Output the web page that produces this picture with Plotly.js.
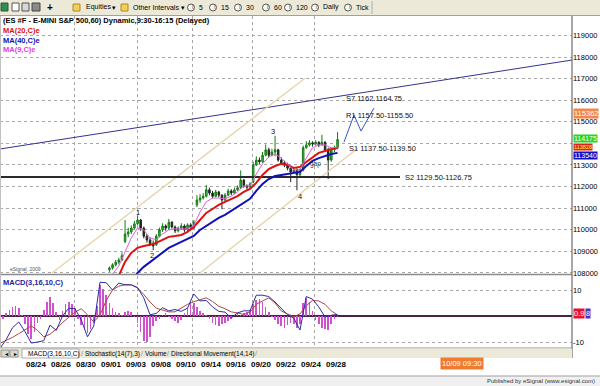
<!DOCTYPE html>
<html><head><meta charset="utf-8">
<script src="https://cdn.plot.ly/plotly-3.0.1.min.js"></script>
<style>html,body{margin:0;padding:0;background:#fff;}#chart{width:600px;height:386px;}</style>
</head><body><div id="chart"></div>
<script>
const F = "Liberation Sans, Arial, sans-serif";
const W = 600, H = 386;
const px = x => x / W;
const py = y => 1 - y / H;

// ---------------- data ----------------
const dateLabels = ['08/24','08/26','08/30','09/01','09/03','09/08','09/10','09/14','09/16','09/20','09/22','09/24','09/28'];
const dateIdx = [0,2,4,6,8,10,12,14,16,18,20,22,24];
const gridIdx = [3.1, 8.08, 12.5, 17.3, 22.3];
const priceTicks = [1080,1090,1100,1110,1120,1130,1140,1150,1160,1170,1180,1190];
// 114000 is hidden behind the value boxes in the reference
const priceTickText = ['108000','109000','110000','111000','112000','113000','','115000','116000','117000','118000','119000'];
const macdTicks = [10,-10];
const macdTickText = ['10','-10'];

const candleStart = 5.875, candleStep = 0.25;
const opens  = [1081.5,1082.25,1083.75,1085,1086,1094.5,1098,1099,1100.75,1102.75,1104.5,1100.75,1097,1095.25,1093.5,1093,1097,1100,1101.75,1100.75,1103.5,1101.25,1099.5,1100.75,1101.75,1100,1102.25,1100.75,1111.5,1113.75,1114.75,1115.5,1118.5,1117,1115.5,1117.5,1116,1113.75,1116,1118,1117,1118.5,1119.5,1123,1120.25,1119.75,1122,1130,1132.25,1131.5,1134.5,1137,1134.5,1136,1137,1132.25,1131,1130,1128.5,1126.75,1127.75,1125.5,1127.75,1138,1139.25,1140.25,1139.75,1140.5,1139.25,1140.5,1137,1132.25,1137,1138];
const highs  = [1083,1084.5,1086,1087,1089.5,1104.5,1101,1102,1104,1106.5,1105,1101.5,1098,1096.5,1095,1098,1101,1103,1102.5,1105,1104,1102,1101.5,1103,1102.5,1103,1103,1104.5,1116,1116.5,1117,1120.75,1119.5,1118,1118.5,1118,1116.5,1117,1119,1118.75,1119.5,1120.5,1127.5,1123.5,1121,1122,1131.5,1134,1133.5,1136,1139.5,1138,1137.5,1143.5,1137.5,1133.5,1132,1131,1129.5,1129,1128.5,1128.5,1139,1141,1141.5,1141,1141.5,1141,1144,1141,1138,1138,1139,1145.25];
const lows   = [1080.5,1081.5,1083,1084,1085.5,1093.75,1096.5,1098,1100,1102,1099.5,1096,1094,1092.5,1090.5,1092.5,1096.5,1099,1099.5,1100,1100.5,1098.5,1098.75,1100,1099,1099.5,1099.75,1100.25,1110.5,1112.5,1114,1115,1116,1114.5,1115,1115,1109.5,1113,1115.5,1116,1116.5,1118,1119,1119.5,1118.5,1119,1121.5,1129.5,1130.5,1131,1134,1133.5,1134,1134,1131.5,1130,1129,1127.5,1122,1126,1118.25,1124.5,1127,1137.5,1138.5,1138.5,1139,1138.25,1139,1136,1123.5,1131.5,1136,1137.5];
const closes = [1082.25,1083.75,1085,1086,1088,1098,1099,1100.75,1102.75,1104.5,1100.75,1097,1095.25,1093.5,1092.5,1097,1100,1101.75,1100.75,1103.5,1101.25,1099.5,1100.75,1101.75,1100,1102.25,1100.75,1103.5,1113.75,1114.75,1115.5,1118.5,1117,1115.5,1117.5,1116,1113.75,1116,1118,1117,1118.5,1119.5,1123,1120.25,1119.75,1121.25,1130,1132.25,1131.5,1134.5,1137,1134.5,1136,1137,1132.25,1131,1130,1128.5,1126.75,1127.75,1125.5,1127.75,1138,1139.25,1140.25,1139.75,1140.5,1139.25,1140.5,1137,1132.25,1137,1138,1141.75];

const maStart = 6.12, maStep = 0.5;
const ma20 = [1074.4,1078.6,1085.1,1089.3,1091.6,1092.5,1093,1093.9,1095.3,1096.7,1097.1,1097.6,1099,1101.3,1104.5,1107.8,1109.6,1111.5,1112.9,1114.3,1115.6,1117.5,1118.9,1121.7,1125.4,1128.1,1129.5,1130.5,1130,1128.6,1129.1,1131.4,1133.7,1135.6,1136.5,1137.4,1137.9];
const ma40 = [1067.5,1070.7,1073.5,1076.3,1080,1082.8,1085.1,1087.4,1089.7,1091.6,1093,1094.4,1095.7,1097.1,1099.9,1101.8,1103.6,1105.5,1106.9,1108.7,1110.6,1112.4,1114.3,1118,1121.2,1123.5,1124.9,1125.4,1125.8,1126.3,1126.8,1129.5,1131.9,1133.2,1134.2,1135.1,1135.6];
const ma9  = [1079.5,1083.2,1089.7,1096.2,1100.8,1099.9,1096.2,1095.3,1098,1099.9,1100.4,1100.4,1100.4,1101.8,1108.2,1112.9,1114.7,1114.7,1114.3,1115.6,1117.5,1120.3,1120.3,1125.8,1130.5,1133.7,1135.1,1133.2,1130.5,1127.7,1127.7,1133.2,1137.9,1139.3,1139.3,1137.9,1138.3];

const macdStart = -2.88, macdStep = 0.5;
const macdLine   = [-12.5,-9,-4.5,-2.3,-6,-10.4,-10,-9.5,-3.5,-5.5,0,3,2.8,-1.5,-8,-3.8,13,12.8,10,12.7,12,12,11,7,0.5,1,3.2,2,2.5,1.8,3,8.5,5.8,6,3.5,1.8,1.5,-0.7,1.2,2,2,8,8,7.5,5.4,2.8,0.5,-0.8,-5.4,7.5,6.5,3.5,-0.4,0.3,0.6];
const signalLine = [-10.5,-9.5,-8.2,-6.8,-5.2,-3.8,-5.5,-8,-7,-5,-2.5,-0.5,1.5,2.8,0.5,-2.3,0.4,6,10,11.5,12,12,10.8,8.3,5.4,3,2.3,1.6,1.6,3,4.5,5.5,6.4,7,5.6,3.8,2.8,1.6,1.2,0.6,1.5,4.5,5.8,7,5,2,0.8,-0.2,0.8,4,6,5.8,4.5,2,0.4];
const histStart = -2.88, histStep = 0.25;
const histogram = [-2,-1,1,2.5,3.5,3.8,3,0.5,-3,-7,-9,-6,-2.5,-1,2.5,5.5,7.3,5,1.5,-1.5,2,4.5,5.5,4.8,3,-1,-3.5,-5.5,-6.5,-5,-2.5,4,12,10.5,8,5,3,1.5,1,0.5,1.5,2,1.5,-0.5,-2.5,-6,-9.5,-10,-8,-4,-2,-1,0.5,1,-0.5,-1,-2,-2.5,-1.5,1,3,5.5,5,3.5,2,1,0.5,-1,-2.5,-3.5,-4,-3,-2.5,-2,-1,0.5,1,0.5,1,1.5,2.5,4.5,6,6.5,5.5,3.5,1.5,-0.5,-1.5,-3,-4,-4.5,-3.5,-2.5,-3,-4.5,-3,5,7,5.5,2,-1.5,-3,-4.5,-5,-5.5,-3,-1,-0.5];

const trendX = [-2.88, 42.88], trendY = [1137.4, 1178.6];
const chanUpX = [1.28, 21.52], chanUpY = [1080, 1170.2];
const chanLoX = [13.12, 25.76], chanLoY = [1080, 1137.9];
const s2X = [-2.88, 29.12], s2Y = [1124.4, 1124.4];
const pathX = [24.64, 25.44, 26.0, 27.04], pathY = [1140.6, 1153.1, 1145.7, 1156.4];

const levelTexts = ['S7 1162.1164.75','R1 1157.50-1155.50','S1 1137.50-1139.50','S2 1129.50-1126.75'];
const levelX = [24.64, 24.64, 24.88, 29.36];
const levelY = [1160.6, 1152.7, 1137.4, 1124.4];
const waveTexts = ['1','2','3','4'];
const waveX = [8.16, 9.28, 18.96, 21.12];
const waveY = [1107.8, 1087.9, 1145.3, 1115.2];

const lastClose = 1141.75, ma20Last = 1138.28, ma40Last = 1135.40, cursorPrice = 1153.62;
const cursorTime = '10/09 09:30';
const macdLast = 0.98;

// ---------------- traces ----------------
const seq = (n, s, st) => Array.from({length:n}, (_, i) => +(s + i*st).toFixed(4));
const candleX = seq(closes.length, candleStart, candleStep);
const maX = seq(ma20.length, maStart, maStep);
const macdX = seq(macdLine.length, macdStart, macdStep);
const histX = seq(histogram.length, histStart, histStep);

const line = (x, y, color, width, xa, ya) => ({type:'scatter', mode:'lines', x, y, xaxis:xa||'x', yaxis:ya||'y', line:{color, width}, hoverinfo:'skip', showlegend:false});

const traces = [
  line(trendX, trendY, '#33338f', 1),
  line(chanUpX, chanUpY, '#e6d3a8', 1.3),
  line(chanLoX, chanLoY, '#e6d3a8', 1.3),
  line(s2X, s2Y, '#2a2a2a', 2),
  line(maX, ma40, '#1010b8', 2),
  line(maX, ma20, '#e01010', 2),
  line(maX, ma9, '#e060e0', 1),
  {type:'candlestick', x:candleX, open:opens, high:highs, low:lows, close:closes, xaxis:'x', yaxis:'y',
   increasing:{line:{color:'#157a15', width:1}, fillcolor:'#39c639'},
   decreasing:{line:{color:'#1c2a1c', width:1}, fillcolor:'#1c2a1c'},
   whiskerwidth:0, showlegend:false, hoverinfo:'skip'},
  line(pathX, pathY, '#3a55c8', 1),
  {type:'bar', x:histX, y:histogram, xaxis:'x2', yaxis:'y2', width:0.13, marker:{color:'#d050d0', line:{width:0}}, showlegend:false, hoverinfo:'skip'},
  line(macdX, signalLine, '#b04545', 1, 'x2', 'y2'),
  line(macdX, macdLine, '#2c2ca8', 1, 'x2', 'y2')
];

// ---------------- layout ----------------
const grid = '#a8a8a8';
const shapes = [];
const annotations = [];
const rect = (x0,y0,x1,y1,fill,lc,lw) => shapes.push({type:'rect', xref:'paper', yref:'paper', x0:px(x0), x1:px(x1), y0:py(y1), y1:py(y0), fillcolor:fill, line:{color:lc||fill, width:lw===undefined?0:lw}, layer:'above'});
const hline = (x0,x1,y,c,w) => shapes.push({type:'line', xref:'paper', yref:'paper', x0:px(x0), x1:px(x1), y0:py(y), y1:py(y), line:{color:c, width:w}, layer:'above'});
const vline = (x,y0,y1,c,w) => shapes.push({type:'line', xref:'paper', yref:'paper', x0:px(x), x1:px(x), y0:py(y0), y1:py(y1), line:{color:c, width:w}, layer:'above'});
const txt = (t,x,y,size,color,opts) => annotations.push(Object.assign({text:t, xref:'paper', yref:'paper', x:px(x), y:py(y), xanchor:'left', yanchor:'middle', showarrow:false, font:{family:F, size, color}}, opts||{}));

// toolbar
rect(0,0,600,15,'#ece9d8');
hline(0,600,15.5,'#a0a0a0',1);
rect(1,3,8,11,'#2f8f4f','#335533',1);
rect(12,3,19,11,'#ffffff','#555',1);
rect(22,3,29,11,'#d8d8d8','#555',1);
rect(32,3,40,11,'#8a8a8a','#444',1);
txt('<b>+</b>',45,7.5,10,'#000');
rect(73,4,80,11,'#f2cf5a','#b08a20',1);
txt('Equities',84,7.5,7,'#000');
txt('▾',110,7.5,7,'#000');
rect(121,4,128,11,'#f2cf5a','#b08a20',1);
txt('Other Intervals',131,7.5,7,'#000');
txt('▾',179,7.5,7,'#000');
const tb = [['5',191],['15',213],['30',238],['60',266],['120',288],['Daily',315],['Tick',348]];
tb.forEach(([t,x]) => {
  shapes.push({type:'circle', xref:'paper', yref:'paper', x0:px(x-3.5), x1:px(x+3.5), y0:py(11), y1:py(4), line:{color:'#333', width:0.8}, fillcolor:'#f8f8f0', layer:'above'});
  txt('I', x-1, 7.5, 5, '#333');
  txt(t, x+6, 7.5, 7, '#000');
});
vline(372,1,14,'#b0b0b0',1);

// chart frame
hline(0,572,274.5,'#8a8a8a',1.5);
hline(0,572,348,'#8a8a8a',1);
vline(572,16,358,'#505050',1);
vline(0.5,16,358,'#c0c0c0',1);

// tab bar
rect(0,348.5,572,358,'#ece9d8');
rect(1,350,9,357,'#dcd8cc','#888',0.8);
rect(10,350,18,357,'#dcd8cc','#888',0.8);
txt('◂',2.5,353.5,6,'#000');
txt('▸',11.5,353.5,6,'#000');
rect(22,349,79,358,'#ffffff','#9a9a9a',0.8);
txt('MACD(3,16,10,C)',26,353.5,6.5,'#000');
txt('/',79,353.5,7,'#888');
txt('Stochastic(14(7),3)',83,353.5,6.5,'#000');
txt('/',139,353.5,7,'#888');
txt('Volume',143,353.5,6.5,'#000');
txt('/',165,353.5,7,'#888');
txt('Directional Movement(14,14)',169,353.5,6.5,'#000');
txt('/',253,353.5,7,'#888');

// status bar
rect(0,376,600,386,'#f0f0f0');
hline(0,600,376,'#a0a0a0',1);
txt('Published by eSignal (www.esignal.com)',597,381,6,'#333',{xanchor:'right'});

// cursor time label
txt(cursorTime,461.5,363,7.5,'#ffffff',{xanchor:'center', bgcolor:'#f07a30', borderpad:1});

// panel titles
txt('<b>(ES #F - E-MINI S&P 500,60) Dynamic,9:30-16:15 (Delayed)</b>',1,21,7.5,'#000');
txt('<b>MA(20,C)e</b>',1,30.5,7.5,'#e01010');
txt('<b>MA(40,C)e</b>',1,40,7.5,'#1010b8');
txt('<b>MA(9,C)e</b>',1,49.3,7.5,'#e040e0');
txt('<b>MACD(3,16,10,C)</b>',1,282.5,7.5,'#2424a0');
txt('eSignal, 2009',8,269,5,'#555');

// data annotations
levelTexts.forEach((t,i) => annotations.push({text:t, xref:'x', yref:'y', x:levelX[i], y:levelY[i], xanchor:'left', yanchor:'middle', showarrow:false, font:{family:F, size:7.5, color:'#111'}}));
waveTexts.forEach((t,i) => annotations.push({text:t, xref:'x', yref:'y', x:waveX[i], y:waveY[i], xanchor:'center', yanchor:'middle', showarrow:false, font:{family:F, size:7.5, color:'#111'}}));
annotations.push({text:'gap', xref:'x', yref:'y', x:22.32, y:1130.5, xanchor:'center', yanchor:'middle', showarrow:false, font:{family:F, size:6.5, color:'#333'}});

// right side value boxes
const box = (val, yref, txtc, bg, lbl, size, shift) => annotations.push({text:lbl, xref:'paper', yref, x:px(572.5), y:val, yshift:shift||0, xanchor:'left', yanchor:'middle', showarrow:false, bgcolor:bg, borderpad:0, font:{family:F, size:size||7.5, color:txtc}});
box(cursorPrice,'y','#ffffff','#f0884a',String(Math.round(cursorPrice*100)));
box(lastClose,'y','#ffffff','#22d822',String(Math.round(lastClose*100)),7,1.5);
box(ma20Last,'y','#ffff40','#e02020',String(Math.round(ma20Last*100)),5.5,0);
box(ma40Last,'y','#ffffff','#1010c8',String(Math.round(ma40Last*100)),7,-2.5);
annotations.push({text:'0.9', xref:'paper', yref:'y2', x:px(572.5), y:macdLast, xanchor:'left', yanchor:'middle', showarrow:false, bgcolor:'#e8102a', borderpad:0, font:{family:F, size:7.5, color:'#fff'}});
annotations.push({text:'8', xref:'paper', yref:'y2', x:px(584.5), y:macdLast, xanchor:'left', yanchor:'middle', showarrow:false, bgcolor:'#5030c0', borderpad:0, font:{family:F, size:7.5, color:'#fff'}});

const layout = {
  width:600, height:386, margin:{l:0,r:0,t:0,b:0},
  paper_bgcolor:'#ffffff', plot_bgcolor:'#ffffff', showlegend:false, bargap:0,
  xaxis:{domain:[0, px(572)], range:[-2.88, 42.88], anchor:'y', tickmode:'array', tickvals:gridIdx, showticklabels:false, ticks:'',
         showgrid:true, gridcolor:grid, griddash:'dot', gridwidth:1, zeroline:false, showline:false, fixedrange:true, rangeslider:{visible:false}},
  yaxis:{domain:[py(274), py(16)], range:[1079.5, 1199], side:'right', anchor:'x', tickmode:'array', tickvals:priceTicks, ticktext:priceTickText,
         tickfont:{family:F, size:7.5, color:'#000'}, ticks:'', showgrid:true, gridcolor:grid, griddash:'dot', zeroline:false, showline:false, fixedrange:true},
  xaxis2:{domain:[0, px(572)], range:[-2.88, 42.88], anchor:'y2', tickmode:'array', tickvals:dateIdx, ticktext:dateLabels,
          tickfont:{family:F, size:8, color:'#000', weight:'bold'}, ticks:'', ticklabelstandoff:10, showgrid:false, zeroline:false, showline:false, fixedrange:true,
          minor:{tickmode:'array', tickvals:gridIdx, showgrid:true, gridcolor:grid, griddash:'dot', gridwidth:1, ticks:''}},
  yaxis2:{domain:[py(348), py(276)], range:[-12.3, 15.4], side:'right', anchor:'x2', tickmode:'array', tickvals:macdTicks, ticktext:macdTickText,
          tickfont:{family:F, size:7.5, color:'#000'}, ticks:'', showgrid:true, gridcolor:grid, griddash:'dot', zeroline:true, zerolinecolor:'#4a1f4a', zerolinewidth:1.5, showline:false, fixedrange:true},
  shapes, annotations
};

Plotly.newPlot('chart', traces, layout, {displayModeBar:false, staticPlot:true});
</script></body></html>
